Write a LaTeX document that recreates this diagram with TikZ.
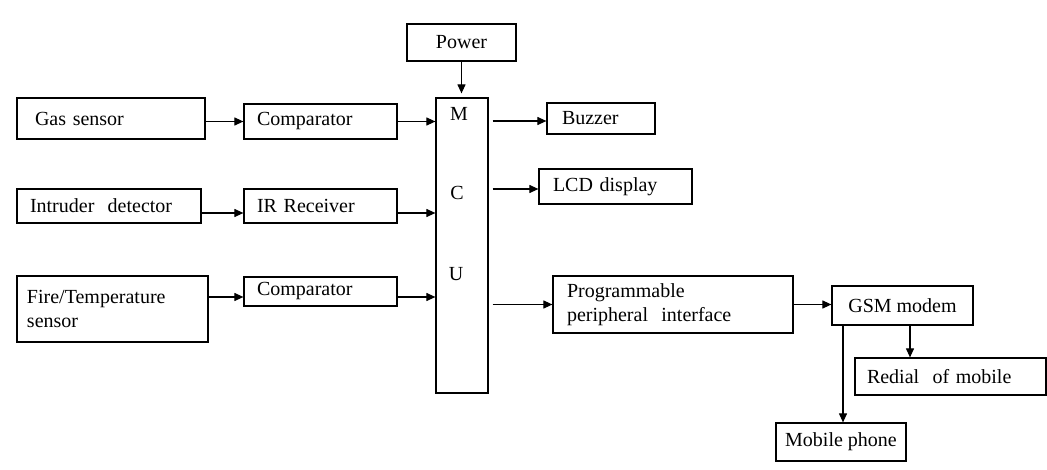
\documentclass[tikz,border=0pt]{standalone}
\usepackage{fontspec}
\setmainfont{Liberation Serif}
\usepackage{tikz}
\usetikzlibrary{positioning,calc}
\usetikzlibrary{arrows.meta}

\begin{document}
\begin{tikzpicture}[x=1pt, y=-1pt, font=\fontsize{20}{24.5}\selectfont,
  blk/.style={draw, line width=1.2pt, inner ysep=0pt, align=left},
  cblk/.style={draw, line width=1.2pt, inner sep=0pt, align=center},
  arr/.style={line width=1.1pt, -{Triangle[length=9pt, width=8pt]}}]
\useasboundingbox (0, 0) rectangle (1047, 470);

\path (461.5, 42.5) node[cblk, minimum width=109pt, minimum height=37pt] (power) {Power};

\path (462, 245.5) node[cblk, minimum width=52pt, minimum height=295pt] (mcu) {};
\path (mcu.north) ++(-3, 17) node (mcu_m) {M};
\path (mcu.north) ++(-5, 96) node (mcu_c) {C};
\path (mcu.north) ++(-6, 177) node (mcu_u) {U};

% sensors
\path (111, 118.5) node[blk, inner xsep=18pt, text width=152pt, minimum height=41pt] (gas) {Gas sensor};
\path (109, 206) node[blk, inner xsep=13pt, text width=158pt, minimum height=34pt] (intruder) {Intruder~ detector};
\path (112.5, 309) node[blk, inner xsep=10pt, text width=171pt, minimum height=66pt] (fire) {Fire/Temperature\\sensor};

\path (320.5, 121.5) node[blk, inner xsep=13pt, text width=127pt, minimum height=35pt] (comp_gas) {Comparator};
\path (320.5, 206) node[blk, inner xsep=13pt, text width=127pt, minimum height=34pt] (ir_rx) {IR Receiver};
\path (320.5, 291.5) node[blk, inner xsep=13pt, text width=127pt, minimum height=29pt] (comp_fire) {Comparator};

% outputs
\path (601, 118.5) node[blk, inner xsep=15pt, text width=78pt, minimum height=31pt] (buzzer) {Buzzer};
\path (615.5, 186.5) node[blk, inner xsep=14pt, text width=125pt, minimum height=35pt] (lcd) {LCD display};
\path (673, 304.5) node[blk, inner xsep=14pt, text width=212pt, minimum height=57pt] (ppi) {Programmable\\peripheral~ interface};

\path (902.5, 305.5) node[cblk, minimum width=141pt, minimum height=39pt] (gsm) {GSM modem};
\path (950.5, 376.5) node[blk, inner xsep=12pt, text width=167pt, minimum height=37pt] (redial) {Redial~ of mobile};
\path (841, 442) node[cblk, minimum width=130pt, minimum height=38pt] (mobile) {Mobile phone};

\draw[arr, shorten >=4pt] (power.south) -- (power.south |- mcu.north);

\draw[arr] (gas.east |- comp_gas.west) -- (comp_gas.west);
\draw[arr] (comp_gas.east) -- (comp_gas.east -| mcu.west);
\draw[arr] ([yshift=-7pt]intruder.east) -- ([yshift=-7pt]ir_rx.west);
\draw[arr] ([yshift=-7pt]ir_rx.east) -- ([yshift=-7pt]ir_rx.east -| mcu.west);
\draw[arr] ([yshift=-5.5pt]comp_fire.west -| fire.east) -- ([yshift=-5.5pt]comp_fire.west);
\draw[arr] ([yshift=-5.5pt]comp_fire.east) -- ([yshift=-5.5pt]comp_fire.east -| mcu.west);

\draw[arr, shorten <=4pt] ([yshift=-2.5pt]buzzer.west -| mcu.east) -- ([yshift=-2.5pt]buzzer.west);
\draw[arr, shorten <=4pt] ([yshift=-2.5pt]lcd.west -| mcu.east) -- ([yshift=-2.5pt]lcd.west);
\draw[arr, shorten <=4pt] (ppi.west -| mcu.east) -- (ppi.west);
\draw[arr] (ppi.east) -- (ppi.east -| gsm.west);
\draw[arr] ([xshift=7.5pt]gsm.south) -- ([xshift=7.5pt]gsm.south |- redial.north);
\draw[arr] ([xshift=2pt]mobile.north |- gsm.south) -- ([xshift=2pt]mobile.north);
\end{tikzpicture}
\end{document}
